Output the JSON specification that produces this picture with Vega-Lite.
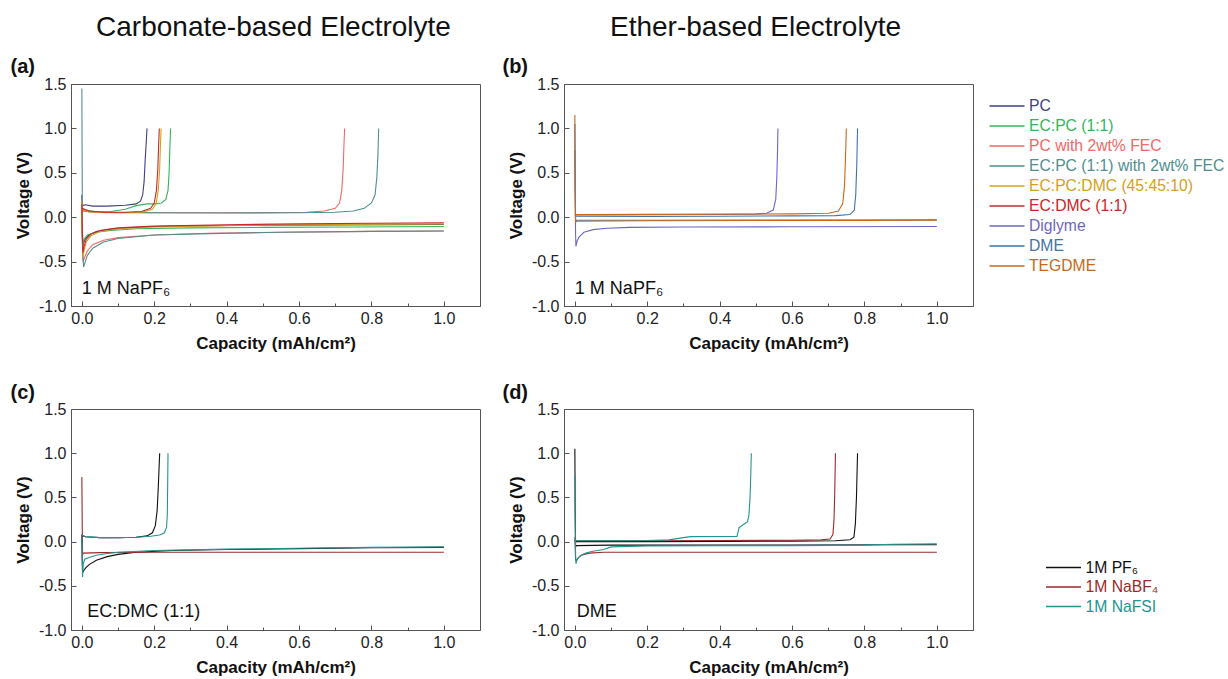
{
"$schema": "https://vega.github.io/schema/vega-lite/v6.json",
"background": "white",
"padding": {"left": 10, "top": 13, "right": 5, "bottom": 5},
"config": {
 "font": "Liberation Sans",
 "view": {"stroke": "#555", "strokeWidth": 1},
 "axis": {"grid": false, "domainColor": "#555", "tickColor": "#555", "labelFont": "Liberation Sans", "labelFontSize": 16, "labelColor": "#222", "titleFont": "Liberation Sans", "titleFontSize": 17, "titleFontWeight": "bold", "titleColor": "#111"},
 "legend": {"labelFont": "Liberation Sans", "labelFontSize": 15.7, "symbolType": "M-2.1875,0H2.1875", "symbolSize": 256, "symbolStrokeWidth": 1.5, "labelOffset": 13, "labelLimit": 400}
},
"datasets": {
"da": [
{"s":"PC","g":"p","x":0,"y":0.25},{"s":"PC","g":"p","x":0.0005,"y":0.05},{"s":"PC","g":"p","x":0.001,"y":-0.2},{"s":"PC","g":"p","x":0.002,"y":-0.36},{"s":"PC","g":"p","x":0.004,"y":-0.3},{"s":"PC","g":"p","x":0.01,"y":-0.24},{"s":"PC","g":"p","x":0.02,"y":-0.2},{"s":"PC","g":"p","x":0.04,"y":-0.16},{"s":"PC","g":"p","x":0.07,"y":-0.14},{"s":"PC","g":"p","x":0.12,"y":-0.12},{"s":"PC","g":"p","x":0.2,"y":-0.105},{"s":"PC","g":"p","x":0.35,"y":-0.095},{"s":"PC","g":"p","x":0.5,"y":-0.09},{"s":"PC","g":"p","x":0.7,"y":-0.087},{"s":"PC","g":"p","x":0.85,"y":-0.085},{"s":"PC","g":"p","x":1.0,"y":-0.083},
{"s":"PC","g":"s","x":0,"y":0.13},{"s":"PC","g":"s","x":0.01,"y":0.14},{"s":"PC","g":"s","x":0.03,"y":0.125},{"s":"PC","g":"s","x":0.07,"y":0.125},{"s":"PC","g":"s","x":0.12,"y":0.135},{"s":"PC","g":"s","x":0.15,"y":0.15},{"s":"PC","g":"s","x":0.162,"y":0.18},{"s":"PC","g":"s","x":0.168,"y":0.25},{"s":"PC","g":"s","x":0.172,"y":0.4},{"s":"PC","g":"s","x":0.175,"y":0.65},{"s":"PC","g":"s","x":0.178,"y":0.85},{"s":"PC","g":"s","x":0.18,"y":1.0},
{"s":"EC:PC (1:1)","g":"p","x":0,"y":0.12},{"s":"EC:PC (1:1)","g":"p","x":0.001,"y":-0.15},{"s":"EC:PC (1:1)","g":"p","x":0.003,"y":-0.3},{"s":"EC:PC (1:1)","g":"p","x":0.006,"y":-0.25},{"s":"EC:PC (1:1)","g":"p","x":0.015,"y":-0.2},{"s":"EC:PC (1:1)","g":"p","x":0.04,"y":-0.17},{"s":"EC:PC (1:1)","g":"p","x":0.08,"y":-0.15},{"s":"EC:PC (1:1)","g":"p","x":0.15,"y":-0.13},{"s":"EC:PC (1:1)","g":"p","x":0.3,"y":-0.12},{"s":"EC:PC (1:1)","g":"p","x":0.5,"y":-0.115},{"s":"EC:PC (1:1)","g":"p","x":0.75,"y":-0.11},{"s":"EC:PC (1:1)","g":"p","x":1.0,"y":-0.105},
{"s":"EC:PC (1:1)","g":"s","x":0,"y":0.1},{"s":"EC:PC (1:1)","g":"s","x":0.01,"y":0.08},{"s":"EC:PC (1:1)","g":"s","x":0.04,"y":0.06},{"s":"EC:PC (1:1)","g":"s","x":0.08,"y":0.065},{"s":"EC:PC (1:1)","g":"s","x":0.12,"y":0.09},{"s":"EC:PC (1:1)","g":"s","x":0.15,"y":0.13},{"s":"EC:PC (1:1)","g":"s","x":0.18,"y":0.15},{"s":"EC:PC (1:1)","g":"s","x":0.2,"y":0.15},{"s":"EC:PC (1:1)","g":"s","x":0.22,"y":0.16},{"s":"EC:PC (1:1)","g":"s","x":0.232,"y":0.2},{"s":"EC:PC (1:1)","g":"s","x":0.238,"y":0.3},{"s":"EC:PC (1:1)","g":"s","x":0.241,"y":0.5},{"s":"EC:PC (1:1)","g":"s","x":0.243,"y":0.75},{"s":"EC:PC (1:1)","g":"s","x":0.245,"y":1.0},
{"s":"PC with 2wt% FEC","g":"p","x":0,"y":0.1},{"s":"PC with 2wt% FEC","g":"p","x":0.001,"y":-0.2},{"s":"PC with 2wt% FEC","g":"p","x":0.003,"y":-0.5},{"s":"PC with 2wt% FEC","g":"p","x":0.006,"y":-0.47},{"s":"PC with 2wt% FEC","g":"p","x":0.015,"y":-0.38},{"s":"PC with 2wt% FEC","g":"p","x":0.03,"y":-0.31},{"s":"PC with 2wt% FEC","g":"p","x":0.06,"y":-0.26},{"s":"PC with 2wt% FEC","g":"p","x":0.1,"y":-0.23},{"s":"PC with 2wt% FEC","g":"p","x":0.2,"y":-0.2},{"s":"PC with 2wt% FEC","g":"p","x":0.35,"y":-0.18},{"s":"PC with 2wt% FEC","g":"p","x":0.55,"y":-0.17},{"s":"PC with 2wt% FEC","g":"p","x":0.8,"y":-0.16},{"s":"PC with 2wt% FEC","g":"p","x":1.0,"y":-0.155},
{"s":"PC with 2wt% FEC","g":"s","x":0,"y":0.08},{"s":"PC with 2wt% FEC","g":"s","x":0.02,"y":0.06},{"s":"PC with 2wt% FEC","g":"s","x":0.1,"y":0.05},{"s":"PC with 2wt% FEC","g":"s","x":0.3,"y":0.05},{"s":"PC with 2wt% FEC","g":"s","x":0.5,"y":0.05},{"s":"PC with 2wt% FEC","g":"s","x":0.62,"y":0.055},{"s":"PC with 2wt% FEC","g":"s","x":0.67,"y":0.07},{"s":"PC with 2wt% FEC","g":"s","x":0.7,"y":0.1},{"s":"PC with 2wt% FEC","g":"s","x":0.712,"y":0.16},{"s":"PC with 2wt% FEC","g":"s","x":0.718,"y":0.3},{"s":"PC with 2wt% FEC","g":"s","x":0.722,"y":0.55},{"s":"PC with 2wt% FEC","g":"s","x":0.724,"y":0.8},{"s":"PC with 2wt% FEC","g":"s","x":0.726,"y":1.0},
{"s":"EC:PC (1:1) with 2wt% FEC","g":"p","x":0,"y":1.45},{"s":"EC:PC (1:1) with 2wt% FEC","g":"p","x":0.0008,"y":0.6},{"s":"EC:PC (1:1) with 2wt% FEC","g":"p","x":0.0015,"y":-0.1},{"s":"EC:PC (1:1) with 2wt% FEC","g":"p","x":0.003,"y":-0.45},{"s":"EC:PC (1:1) with 2wt% FEC","g":"p","x":0.005,"y":-0.56},{"s":"EC:PC (1:1) with 2wt% FEC","g":"p","x":0.008,"y":-0.52},{"s":"EC:PC (1:1) with 2wt% FEC","g":"p","x":0.015,"y":-0.43},{"s":"EC:PC (1:1) with 2wt% FEC","g":"p","x":0.03,"y":-0.35},{"s":"EC:PC (1:1) with 2wt% FEC","g":"p","x":0.06,"y":-0.28},{"s":"EC:PC (1:1) with 2wt% FEC","g":"p","x":0.1,"y":-0.24},{"s":"EC:PC (1:1) with 2wt% FEC","g":"p","x":0.2,"y":-0.2},{"s":"EC:PC (1:1) with 2wt% FEC","g":"p","x":0.35,"y":-0.185},{"s":"EC:PC (1:1) with 2wt% FEC","g":"p","x":0.55,"y":-0.17},{"s":"EC:PC (1:1) with 2wt% FEC","g":"p","x":0.8,"y":-0.16},{"s":"EC:PC (1:1) with 2wt% FEC","g":"p","x":1.0,"y":-0.155},
{"s":"EC:PC (1:1) with 2wt% FEC","g":"s","x":0,"y":0.07},{"s":"EC:PC (1:1) with 2wt% FEC","g":"s","x":0.05,"y":0.055},{"s":"EC:PC (1:1) with 2wt% FEC","g":"s","x":0.2,"y":0.05},{"s":"EC:PC (1:1) with 2wt% FEC","g":"s","x":0.4,"y":0.048},{"s":"EC:PC (1:1) with 2wt% FEC","g":"s","x":0.6,"y":0.05},{"s":"EC:PC (1:1) with 2wt% FEC","g":"s","x":0.7,"y":0.055},{"s":"EC:PC (1:1) with 2wt% FEC","g":"s","x":0.75,"y":0.07},{"s":"EC:PC (1:1) with 2wt% FEC","g":"s","x":0.78,"y":0.1},{"s":"EC:PC (1:1) with 2wt% FEC","g":"s","x":0.8,"y":0.16},{"s":"EC:PC (1:1) with 2wt% FEC","g":"s","x":0.81,"y":0.25},{"s":"EC:PC (1:1) with 2wt% FEC","g":"s","x":0.815,"y":0.45},{"s":"EC:PC (1:1) with 2wt% FEC","g":"s","x":0.818,"y":0.7},{"s":"EC:PC (1:1) with 2wt% FEC","g":"s","x":0.82,"y":1.0},
{"s":"EC:PC:DMC (45:45:10)","g":"p","x":0,"y":0.18},{"s":"EC:PC:DMC (45:45:10)","g":"p","x":0.001,"y":-0.1},{"s":"EC:PC:DMC (45:45:10)","g":"p","x":0.003,"y":-0.45},{"s":"EC:PC:DMC (45:45:10)","g":"p","x":0.006,"y":-0.38},{"s":"EC:PC:DMC (45:45:10)","g":"p","x":0.012,"y":-0.28},{"s":"EC:PC:DMC (45:45:10)","g":"p","x":0.025,"y":-0.21},{"s":"EC:PC:DMC (45:45:10)","g":"p","x":0.05,"y":-0.16},{"s":"EC:PC:DMC (45:45:10)","g":"p","x":0.1,"y":-0.13},{"s":"EC:PC:DMC (45:45:10)","g":"p","x":0.2,"y":-0.11},{"s":"EC:PC:DMC (45:45:10)","g":"p","x":0.4,"y":-0.095},{"s":"EC:PC:DMC (45:45:10)","g":"p","x":0.6,"y":-0.085},{"s":"EC:PC:DMC (45:45:10)","g":"p","x":0.8,"y":-0.078},{"s":"EC:PC:DMC (45:45:10)","g":"p","x":1.0,"y":-0.075},
{"s":"EC:PC:DMC (45:45:10)","g":"s","x":0,"y":0.09},{"s":"EC:PC:DMC (45:45:10)","g":"s","x":0.02,"y":0.06},{"s":"EC:PC:DMC (45:45:10)","g":"s","x":0.06,"y":0.05},{"s":"EC:PC:DMC (45:45:10)","g":"s","x":0.12,"y":0.05},{"s":"EC:PC:DMC (45:45:10)","g":"s","x":0.17,"y":0.06},{"s":"EC:PC:DMC (45:45:10)","g":"s","x":0.195,"y":0.09},{"s":"EC:PC:DMC (45:45:10)","g":"s","x":0.205,"y":0.15},{"s":"EC:PC:DMC (45:45:10)","g":"s","x":0.211,"y":0.3},{"s":"EC:PC:DMC (45:45:10)","g":"s","x":0.215,"y":0.55},{"s":"EC:PC:DMC (45:45:10)","g":"s","x":0.217,"y":0.8},{"s":"EC:PC:DMC (45:45:10)","g":"s","x":0.219,"y":1.0},
{"s":"EC:DMC (1:1)","g":"p","x":0,"y":0.15},{"s":"EC:DMC (1:1)","g":"p","x":0.001,"y":-0.1},{"s":"EC:DMC (1:1)","g":"p","x":0.003,"y":-0.4},{"s":"EC:DMC (1:1)","g":"p","x":0.006,"y":-0.33},{"s":"EC:DMC (1:1)","g":"p","x":0.012,"y":-0.25},{"s":"EC:DMC (1:1)","g":"p","x":0.025,"y":-0.19},{"s":"EC:DMC (1:1)","g":"p","x":0.05,"y":-0.15},{"s":"EC:DMC (1:1)","g":"p","x":0.1,"y":-0.12},{"s":"EC:DMC (1:1)","g":"p","x":0.2,"y":-0.1},{"s":"EC:DMC (1:1)","g":"p","x":0.4,"y":-0.085},{"s":"EC:DMC (1:1)","g":"p","x":0.6,"y":-0.075},{"s":"EC:DMC (1:1)","g":"p","x":0.8,"y":-0.068},{"s":"EC:DMC (1:1)","g":"p","x":1.0,"y":-0.063},
{"s":"EC:DMC (1:1)","g":"s","x":0,"y":0.1},{"s":"EC:DMC (1:1)","g":"s","x":0.02,"y":0.07},{"s":"EC:DMC (1:1)","g":"s","x":0.06,"y":0.055},{"s":"EC:DMC (1:1)","g":"s","x":0.12,"y":0.055},{"s":"EC:DMC (1:1)","g":"s","x":0.165,"y":0.065},{"s":"EC:DMC (1:1)","g":"s","x":0.19,"y":0.1},{"s":"EC:DMC (1:1)","g":"s","x":0.2,"y":0.16},{"s":"EC:DMC (1:1)","g":"s","x":0.206,"y":0.3},{"s":"EC:DMC (1:1)","g":"s","x":0.21,"y":0.55},{"s":"EC:DMC (1:1)","g":"s","x":0.212,"y":0.8},{"s":"EC:DMC (1:1)","g":"s","x":0.214,"y":1.0}
],
"db": [
{"s":"Diglyme","g":"p","x":0,"y":0.75},{"s":"Diglyme","g":"p","x":0.001,"y":0.2},{"s":"Diglyme","g":"p","x":0.002,"y":-0.2},{"s":"Diglyme","g":"p","x":0.003,"y":-0.33},{"s":"Diglyme","g":"p","x":0.006,"y":-0.27},{"s":"Diglyme","g":"p","x":0.012,"y":-0.22},{"s":"Diglyme","g":"p","x":0.025,"y":-0.17},{"s":"Diglyme","g":"p","x":0.05,"y":-0.14},{"s":"Diglyme","g":"p","x":0.09,"y":-0.125},{"s":"Diglyme","g":"p","x":0.15,"y":-0.115},{"s":"Diglyme","g":"p","x":0.3,"y":-0.11},{"s":"Diglyme","g":"p","x":0.6,"y":-0.108},{"s":"Diglyme","g":"p","x":1.0,"y":-0.105},
{"s":"Diglyme","g":"s","x":0,"y":0.025},{"s":"Diglyme","g":"s","x":0.1,"y":0.025},{"s":"Diglyme","g":"s","x":0.25,"y":0.028},{"s":"Diglyme","g":"s","x":0.4,"y":0.03},{"s":"Diglyme","g":"s","x":0.5,"y":0.035},{"s":"Diglyme","g":"s","x":0.53,"y":0.045},{"s":"Diglyme","g":"s","x":0.548,"y":0.08},{"s":"Diglyme","g":"s","x":0.555,"y":0.2},{"s":"Diglyme","g":"s","x":0.558,"y":0.45},{"s":"Diglyme","g":"s","x":0.56,"y":0.75},{"s":"Diglyme","g":"s","x":0.561,"y":1.0},
{"s":"DME","g":"p","x":0,"y":1.05},{"s":"DME","g":"p","x":0.001,"y":0.3},{"s":"DME","g":"p","x":0.002,"y":-0.05},{"s":"DME","g":"p","x":0.004,"y":-0.035},{"s":"DME","g":"p","x":0.2,"y":-0.035},{"s":"DME","g":"p","x":0.5,"y":-0.033},{"s":"DME","g":"p","x":0.8,"y":-0.032},{"s":"DME","g":"p","x":1.0,"y":-0.03},
{"s":"DME","g":"s","x":0,"y":0.01},{"s":"DME","g":"s","x":0.2,"y":0.008},{"s":"DME","g":"s","x":0.4,"y":0.01},{"s":"DME","g":"s","x":0.6,"y":0.015},{"s":"DME","g":"s","x":0.72,"y":0.018},{"s":"DME","g":"s","x":0.76,"y":0.03},{"s":"DME","g":"s","x":0.772,"y":0.08},{"s":"DME","g":"s","x":0.776,"y":0.25},{"s":"DME","g":"s","x":0.779,"y":0.6},{"s":"DME","g":"s","x":0.781,"y":1.0},
{"s":"TEGDME","g":"p","x":0,"y":1.15},{"s":"TEGDME","g":"p","x":0.001,"y":0.4},{"s":"TEGDME","g":"p","x":0.002,"y":-0.06},{"s":"TEGDME","g":"p","x":0.005,"y":-0.045},{"s":"TEGDME","g":"p","x":0.2,"y":-0.04},{"s":"TEGDME","g":"p","x":0.5,"y":-0.038},{"s":"TEGDME","g":"p","x":0.8,"y":-0.036},{"s":"TEGDME","g":"p","x":1.0,"y":-0.035},
{"s":"TEGDME","g":"s","x":0,"y":0.03},{"s":"TEGDME","g":"s","x":0.2,"y":0.032},{"s":"TEGDME","g":"s","x":0.4,"y":0.035},{"s":"TEGDME","g":"s","x":0.6,"y":0.038},{"s":"TEGDME","g":"s","x":0.7,"y":0.045},{"s":"TEGDME","g":"s","x":0.728,"y":0.07},{"s":"TEGDME","g":"s","x":0.74,"y":0.15},{"s":"TEGDME","g":"s","x":0.745,"y":0.35},{"s":"TEGDME","g":"s","x":0.748,"y":0.7},{"s":"TEGDME","g":"s","x":0.75,"y":1.0}
],
"dc": [
{"s":"1M PF₆","g":"p","x":0,"y":0.08},{"s":"1M PF₆","g":"p","x":0.001,"y":-0.2},{"s":"1M PF₆","g":"p","x":0.002,"y":-0.35},{"s":"1M PF₆","g":"p","x":0.005,"y":-0.33},{"s":"1M PF₆","g":"p","x":0.01,"y":-0.3},{"s":"1M PF₆","g":"p","x":0.02,"y":-0.26},{"s":"1M PF₆","g":"p","x":0.04,"y":-0.21},{"s":"1M PF₆","g":"p","x":0.07,"y":-0.17},{"s":"1M PF₆","g":"p","x":0.1,"y":-0.145},{"s":"1M PF₆","g":"p","x":0.15,"y":-0.12},{"s":"1M PF₆","g":"p","x":0.25,"y":-0.1},{"s":"1M PF₆","g":"p","x":0.4,"y":-0.09},{"s":"1M PF₆","g":"p","x":0.6,"y":-0.08},{"s":"1M PF₆","g":"p","x":0.8,"y":-0.07},{"s":"1M PF₆","g":"p","x":1.0,"y":-0.065},
{"s":"1M PF₆","g":"s","x":0,"y":0.07},{"s":"1M PF₆","g":"s","x":0.01,"y":0.055},{"s":"1M PF₆","g":"s","x":0.05,"y":0.045},{"s":"1M PF₆","g":"s","x":0.1,"y":0.045},{"s":"1M PF₆","g":"s","x":0.15,"y":0.05},{"s":"1M PF₆","g":"s","x":0.18,"y":0.065},{"s":"1M PF₆","g":"s","x":0.195,"y":0.1},{"s":"1M PF₆","g":"s","x":0.203,"y":0.18},{"s":"1M PF₆","g":"s","x":0.208,"y":0.35},{"s":"1M PF₆","g":"s","x":0.211,"y":0.6},{"s":"1M PF₆","g":"s","x":0.213,"y":0.8},{"s":"1M PF₆","g":"s","x":0.215,"y":1.0},
{"s":"1M NaBF₄","g":"p","x":0,"y":0.73},{"s":"1M NaBF₄","g":"p","x":0.001,"y":0.2},{"s":"1M NaBF₄","g":"p","x":0.002,"y":-0.15},{"s":"1M NaBF₄","g":"p","x":0.004,"y":-0.13},{"s":"1M NaBF₄","g":"p","x":0.05,"y":-0.125},{"s":"1M NaBF₄","g":"p","x":0.2,"y":-0.12},{"s":"1M NaBF₄","g":"p","x":0.5,"y":-0.12},{"s":"1M NaBF₄","g":"p","x":0.8,"y":-0.12},{"s":"1M NaBF₄","g":"p","x":1.0,"y":-0.12},
{"s":"1M NaFSI","g":"p","x":0,"y":0.05},{"s":"1M NaFSI","g":"p","x":0.001,"y":-0.2},{"s":"1M NaFSI","g":"p","x":0.002,"y":-0.4},{"s":"1M NaFSI","g":"p","x":0.004,"y":-0.25},{"s":"1M NaFSI","g":"p","x":0.008,"y":-0.2},{"s":"1M NaFSI","g":"p","x":0.02,"y":-0.18},{"s":"1M NaFSI","g":"p","x":0.04,"y":-0.155},{"s":"1M NaFSI","g":"p","x":0.07,"y":-0.135},{"s":"1M NaFSI","g":"p","x":0.1,"y":-0.12},{"s":"1M NaFSI","g":"p","x":0.2,"y":-0.1},{"s":"1M NaFSI","g":"p","x":0.4,"y":-0.085},{"s":"1M NaFSI","g":"p","x":0.6,"y":-0.075},{"s":"1M NaFSI","g":"p","x":0.8,"y":-0.065},{"s":"1M NaFSI","g":"p","x":1.0,"y":-0.06},
{"s":"1M NaFSI","g":"s","x":0,"y":0.075},{"s":"1M NaFSI","g":"s","x":0.01,"y":0.055},{"s":"1M NaFSI","g":"s","x":0.05,"y":0.045},{"s":"1M NaFSI","g":"s","x":0.1,"y":0.045},{"s":"1M NaFSI","g":"s","x":0.15,"y":0.05},{"s":"1M NaFSI","g":"s","x":0.19,"y":0.06},{"s":"1M NaFSI","g":"s","x":0.215,"y":0.075},{"s":"1M NaFSI","g":"s","x":0.228,"y":0.1},{"s":"1M NaFSI","g":"s","x":0.234,"y":0.16},{"s":"1M NaFSI","g":"s","x":0.236,"y":0.3},{"s":"1M NaFSI","g":"s","x":0.237,"y":0.6},{"s":"1M NaFSI","g":"s","x":0.238,"y":1.0}
],
"dd": [
{"s":"1M PF₆","g":"p","x":0,"y":1.05},{"s":"1M PF₆","g":"p","x":0.001,"y":0.3},{"s":"1M PF₆","g":"p","x":0.002,"y":-0.06},{"s":"1M PF₆","g":"p","x":0.004,"y":-0.045},{"s":"1M PF₆","g":"p","x":0.1,"y":-0.04},{"s":"1M PF₆","g":"p","x":0.3,"y":-0.04},{"s":"1M PF₆","g":"p","x":0.6,"y":-0.038},{"s":"1M PF₆","g":"p","x":0.9,"y":-0.035},{"s":"1M PF₆","g":"p","x":1.0,"y":-0.035},
{"s":"1M PF₆","g":"s","x":0,"y":0.0},{"s":"1M PF₆","g":"s","x":0.2,"y":0.0},{"s":"1M PF₆","g":"s","x":0.4,"y":0.002},{"s":"1M PF₆","g":"s","x":0.6,"y":0.005},{"s":"1M PF₆","g":"s","x":0.72,"y":0.01},{"s":"1M PF₆","g":"s","x":0.76,"y":0.02},{"s":"1M PF₆","g":"s","x":0.771,"y":0.05},{"s":"1M PF₆","g":"s","x":0.775,"y":0.2},{"s":"1M PF₆","g":"s","x":0.778,"y":0.5},{"s":"1M PF₆","g":"s","x":0.781,"y":1.0},
{"s":"1M NaBF₄","g":"p","x":0,"y":0.05},{"s":"1M NaBF₄","g":"p","x":0.002,"y":-0.2},{"s":"1M NaBF₄","g":"p","x":0.004,"y":-0.22},{"s":"1M NaBF₄","g":"p","x":0.01,"y":-0.18},{"s":"1M NaBF₄","g":"p","x":0.02,"y":-0.15},{"s":"1M NaBF₄","g":"p","x":0.04,"y":-0.13},{"s":"1M NaBF₄","g":"p","x":0.08,"y":-0.12},{"s":"1M NaBF₄","g":"p","x":0.3,"y":-0.12},{"s":"1M NaBF₄","g":"p","x":0.6,"y":-0.12},{"s":"1M NaBF₄","g":"p","x":1.0,"y":-0.12},
{"s":"1M NaBF₄","g":"s","x":0,"y":0.01},{"s":"1M NaBF₄","g":"s","x":0.2,"y":0.01},{"s":"1M NaBF₄","g":"s","x":0.4,"y":0.012},{"s":"1M NaBF₄","g":"s","x":0.6,"y":0.015},{"s":"1M NaBF₄","g":"s","x":0.68,"y":0.02},{"s":"1M NaBF₄","g":"s","x":0.705,"y":0.03},{"s":"1M NaBF₄","g":"s","x":0.713,"y":0.08},{"s":"1M NaBF₄","g":"s","x":0.716,"y":0.25},{"s":"1M NaBF₄","g":"s","x":0.718,"y":0.55},{"s":"1M NaBF₄","g":"s","x":0.72,"y":1.0},
{"s":"1M NaFSI","g":"p","x":0,"y":0.75},{"s":"1M NaFSI","g":"p","x":0.001,"y":0.2},{"s":"1M NaFSI","g":"p","x":0.002,"y":-0.15},{"s":"1M NaFSI","g":"p","x":0.003,"y":-0.25},{"s":"1M NaFSI","g":"p","x":0.006,"y":-0.2},{"s":"1M NaFSI","g":"p","x":0.015,"y":-0.16},{"s":"1M NaFSI","g":"p","x":0.03,"y":-0.13},{"s":"1M NaFSI","g":"p","x":0.05,"y":-0.11},{"s":"1M NaFSI","g":"p","x":0.08,"y":-0.09},{"s":"1M NaFSI","g":"p","x":0.1,"y":-0.06},{"s":"1M NaFSI","g":"p","x":0.2,"y":-0.05},{"s":"1M NaFSI","g":"p","x":0.4,"y":-0.045},{"s":"1M NaFSI","g":"p","x":0.6,"y":-0.045},{"s":"1M NaFSI","g":"p","x":0.8,"y":-0.04},{"s":"1M NaFSI","g":"p","x":0.88,"y":-0.03},{"s":"1M NaFSI","g":"p","x":1.0,"y":-0.025},
{"s":"1M NaFSI","g":"s","x":0,"y":0.01},{"s":"1M NaFSI","g":"s","x":0.1,"y":0.01},{"s":"1M NaFSI","g":"s","x":0.2,"y":0.012},{"s":"1M NaFSI","g":"s","x":0.26,"y":0.02},{"s":"1M NaFSI","g":"s","x":0.3,"y":0.045},{"s":"1M NaFSI","g":"s","x":0.32,"y":0.056},{"s":"1M NaFSI","g":"s","x":0.448,"y":0.058},{"s":"1M NaFSI","g":"s","x":0.454,"y":0.16},{"s":"1M NaFSI","g":"s","x":0.458,"y":0.17},{"s":"1M NaFSI","g":"s","x":0.477,"y":0.225},{"s":"1M NaFSI","g":"s","x":0.481,"y":0.3},{"s":"1M NaFSI","g":"s","x":0.484,"y":0.5},{"s":"1M NaFSI","g":"s","x":0.486,"y":0.75},{"s":"1M NaFSI","g":"s","x":0.4875,"y":1.0}
]
},
"spacing": 30,
"resolve": {"scale": {"color": "independent"}, "legend": {"color": "independent"}},
"vconcat": [
{
"spacing": 20,
"resolve": {"scale": {"color": "shared"}, "legend": {"color": "shared"}},
"hconcat": [
{
"width": 409, "height": 222,
"title": {"text": "Carbonate-based Electrolyte", "frame": "group", "anchor": "middle", "dx": -2, "fontSize": 28, "fontWeight": "normal", "font": "Liberation Sans", "color": "#111", "offset": 15},
"layer": [
{"data": {"name": "da"}, "mark": {"type": "line", "strokeWidth": 1.1, "clip": true},
"encoding": {
"x": {"field": "x", "type": "quantitative", "title": "Capacity (mAh/cm²)", "scale": {"domain": [-0.03, 1.1], "nice": false, "zero": false}, "axis": {"values": [0,0.1,0.2,0.3,0.4,0.5,0.6,0.7,0.8,0.9,1], "labelExpr": "round(datum.value*10)%2==0 ? format(datum.value,'.1f') : ''", "tickSize": {"condition": {"test": "round(datum.value*10)%2==0", "value": -5}, "value": -3}, "labelPadding": 9, "titlePadding": 9}},
"y": {"field": "y", "type": "quantitative", "title": "Voltage (V)", "scale": {"domain": [-1, 1.5], "nice": false, "zero": false}, "axis": {"values": [-1,-0.75,-0.5,-0.25,0,0.25,0.5,0.75,1,1.25,1.5], "labelExpr": "abs(datum.value*2-round(datum.value*2))<0.01 ? (datum.value<0 ? '-' + format(-datum.value,'.1f') : format(datum.value,'.1f')) : ''", "tickSize": {"condition": {"test": "abs(datum.value*2-round(datum.value*2))<0.01", "value": -5}, "value": -3}, "labelPadding": 10, "titlePadding": 6}},
"color": {"field": "s", "type": "nominal", "scale": {"domain": ["PC","EC:PC (1:1)","PC with 2wt% FEC","EC:PC (1:1) with 2wt% FEC","EC:PC:DMC (45:45:10)","EC:DMC (1:1)","Diglyme","DME","TEGDME"], "range": ["#40407f","#35b55a","#f06868","#4f8f8c","#d4a218","#c9272d","#6b68c4","#3f74a6","#c9681a"]}, "legend": {"orient": "right", "offset": 10.5, "padding": 13, "rowPadding": 3, "title": null, "labelColor": {"expr": "['#40407f','#35b55a','#f06868','#4f8f8c','#d4a218','#c9272d','#6b68c4','#3f74a6','#c9681a'][indexof(['PC','EC:PC (1:1)','PC with 2wt% FEC','EC:PC (1:1) with 2wt% FEC','EC:PC:DMC (45:45:10)','EC:DMC (1:1)','Diglyme','DME','TEGDME'], datum.value)]"}}},
"detail": {"field": "g"}
}},
{"data": {"values": [{}]}, "mark": {"type": "text", "align": "left", "baseline": "alphabetic", "fontSize": 18, "font": "Liberation Sans", "color": "#111"}, "encoding": {"x": {"datum": 0.0}, "y": {"datum": -0.865}, "text": {"value": "1 M NaPF₆"}}},
{"data": {"values": [{}]}, "mark": {"type": "text", "align": "left", "baseline": "middle", "fontSize": 20, "fontWeight": "bold", "font": "Liberation Sans", "color": "#111"}, "encoding": {"x": {"datum": -0.197}, "y": {"datum": 1.69}, "text": {"value": "(a)"}}}
]
},
{
"width": 409, "height": 222,
"title": {"text": "Ether-based Electrolyte", "frame": "group", "anchor": "middle", "dx": -13, "fontSize": 28, "fontWeight": "normal", "font": "Liberation Sans", "color": "#111", "offset": 15},
"layer": [
{"data": {"name": "db"}, "mark": {"type": "line", "strokeWidth": 1.1, "clip": true},
"encoding": {
"x": {"field": "x", "type": "quantitative", "title": "Capacity (mAh/cm²)", "scale": {"domain": [-0.03, 1.1], "nice": false, "zero": false}, "axis": {"values": [0,0.1,0.2,0.3,0.4,0.5,0.6,0.7,0.8,0.9,1], "labelExpr": "round(datum.value*10)%2==0 ? format(datum.value,'.1f') : ''", "tickSize": {"condition": {"test": "round(datum.value*10)%2==0", "value": -5}, "value": -3}, "labelPadding": 9, "titlePadding": 9}},
"y": {"field": "y", "type": "quantitative", "title": "Voltage (V)", "scale": {"domain": [-1, 1.5], "nice": false, "zero": false}, "axis": {"values": [-1,-0.75,-0.5,-0.25,0,0.25,0.5,0.75,1,1.25,1.5], "labelExpr": "abs(datum.value*2-round(datum.value*2))<0.01 ? (datum.value<0 ? '-' + format(-datum.value,'.1f') : format(datum.value,'.1f')) : ''", "tickSize": {"condition": {"test": "abs(datum.value*2-round(datum.value*2))<0.01", "value": -5}, "value": -3}, "labelPadding": 10, "titlePadding": 6}},
"color": {"field": "s", "type": "nominal", "scale": {"domain": ["PC","EC:PC (1:1)","PC with 2wt% FEC","EC:PC (1:1) with 2wt% FEC","EC:PC:DMC (45:45:10)","EC:DMC (1:1)","Diglyme","DME","TEGDME"], "range": ["#40407f","#35b55a","#f06868","#4f8f8c","#d4a218","#c9272d","#6b68c4","#3f74a6","#c9681a"]}, "legend": {"orient": "right", "offset": 10.5, "padding": 13, "rowPadding": 3, "title": null, "labelColor": {"expr": "['#40407f','#35b55a','#f06868','#4f8f8c','#d4a218','#c9272d','#6b68c4','#3f74a6','#c9681a'][indexof(['PC','EC:PC (1:1)','PC with 2wt% FEC','EC:PC (1:1) with 2wt% FEC','EC:PC:DMC (45:45:10)','EC:DMC (1:1)','Diglyme','DME','TEGDME'], datum.value)]"}}},
"detail": {"field": "g"}
}},
{"data": {"values": [{}]}, "mark": {"type": "text", "align": "left", "baseline": "alphabetic", "fontSize": 18, "font": "Liberation Sans", "color": "#111"}, "encoding": {"x": {"datum": 0.0}, "y": {"datum": -0.865}, "text": {"value": "1 M NaPF₆"}}},
{"data": {"values": [{}]}, "mark": {"type": "text", "align": "left", "baseline": "middle", "fontSize": 20, "fontWeight": "bold", "font": "Liberation Sans", "color": "#111"}, "encoding": {"x": {"datum": -0.2}, "y": {"datum": 1.69}, "text": {"value": "(b)"}}}
]
}
]
},
{
"spacing": 20,
"resolve": {"scale": {"color": "shared"}, "legend": {"color": "shared"}},
"hconcat": [
{
"width": 409, "height": 221,
"layer": [
{"data": {"name": "dc"}, "mark": {"type": "line", "strokeWidth": 1.1, "clip": true},
"encoding": {
"x": {"field": "x", "type": "quantitative", "title": "Capacity (mAh/cm²)", "scale": {"domain": [-0.03, 1.1], "nice": false, "zero": false}, "axis": {"values": [0,0.1,0.2,0.3,0.4,0.5,0.6,0.7,0.8,0.9,1], "labelExpr": "round(datum.value*10)%2==0 ? format(datum.value,'.1f') : ''", "tickSize": {"condition": {"test": "round(datum.value*10)%2==0", "value": -5}, "value": -3}, "labelPadding": 9, "titlePadding": 9}},
"y": {"field": "y", "type": "quantitative", "title": "Voltage (V)", "scale": {"domain": [-1, 1.5], "nice": false, "zero": false}, "axis": {"values": [-1,-0.75,-0.5,-0.25,0,0.25,0.5,0.75,1,1.25,1.5], "labelExpr": "abs(datum.value*2-round(datum.value*2))<0.01 ? (datum.value<0 ? '-' + format(-datum.value,'.1f') : format(datum.value,'.1f')) : ''", "tickSize": {"condition": {"test": "abs(datum.value*2-round(datum.value*2))<0.01", "value": -5}, "value": -3}, "labelPadding": 10, "titlePadding": 6}},
"color": {"field": "s", "type": "nominal", "scale": {"domain": ["1M PF₆","1M NaBF₄","1M NaFSI"], "range": ["#111111","#9a2a2a","#23948f"]}, "legend": {"orient": "none", "legendX": 983.5, "legendY": 149.5, "padding": 0, "rowPadding": 2.5, "title": null, "labelColor": {"expr": "['#111111','#9a2a2a','#23948f'][indexof(['1M PF₆','1M NaBF₄','1M NaFSI'], datum.value)]"}}},
"detail": {"field": "g"}
}},
{"data": {"values": [{}]}, "mark": {"type": "text", "align": "left", "baseline": "alphabetic", "fontSize": 18, "font": "Liberation Sans", "color": "#111"}, "encoding": {"x": {"datum": 0.015}, "y": {"datum": -0.855}, "text": {"value": "EC:DMC (1:1)"}}},
{"data": {"values": [{}]}, "mark": {"type": "text", "align": "left", "baseline": "middle", "fontSize": 20, "fontWeight": "bold", "font": "Liberation Sans", "color": "#111"}, "encoding": {"x": {"datum": -0.197}, "y": {"datum": 1.68}, "text": {"value": "(c)"}}}
]
},
{
"width": 409, "height": 221,
"layer": [
{"data": {"name": "dd"}, "mark": {"type": "line", "strokeWidth": 1.1, "clip": true},
"encoding": {
"x": {"field": "x", "type": "quantitative", "title": "Capacity (mAh/cm²)", "scale": {"domain": [-0.03, 1.1], "nice": false, "zero": false}, "axis": {"values": [0,0.1,0.2,0.3,0.4,0.5,0.6,0.7,0.8,0.9,1], "labelExpr": "round(datum.value*10)%2==0 ? format(datum.value,'.1f') : ''", "tickSize": {"condition": {"test": "round(datum.value*10)%2==0", "value": -5}, "value": -3}, "labelPadding": 9, "titlePadding": 9}},
"y": {"field": "y", "type": "quantitative", "title": "Voltage (V)", "scale": {"domain": [-1, 1.5], "nice": false, "zero": false}, "axis": {"values": [-1,-0.75,-0.5,-0.25,0,0.25,0.5,0.75,1,1.25,1.5], "labelExpr": "abs(datum.value*2-round(datum.value*2))<0.01 ? (datum.value<0 ? '-' + format(-datum.value,'.1f') : format(datum.value,'.1f')) : ''", "tickSize": {"condition": {"test": "abs(datum.value*2-round(datum.value*2))<0.01", "value": -5}, "value": -3}, "labelPadding": 10, "titlePadding": 6}},
"color": {"field": "s", "type": "nominal", "scale": {"domain": ["1M PF₆","1M NaBF₄","1M NaFSI"], "range": ["#111111","#9a2a2a","#23948f"]}, "legend": {"orient": "none", "legendX": 983.5, "legendY": 149.5, "padding": 0, "rowPadding": 2.5, "title": null, "labelColor": {"expr": "['#111111','#9a2a2a','#23948f'][indexof(['1M PF₆','1M NaBF₄','1M NaFSI'], datum.value)]"}}},
"detail": {"field": "g"}
}},
{"data": {"values": [{}]}, "mark": {"type": "text", "align": "left", "baseline": "alphabetic", "fontSize": 18, "font": "Liberation Sans", "color": "#111"}, "encoding": {"x": {"datum": 0.005}, "y": {"datum": -0.855}, "text": {"value": "DME"}}},
{"data": {"values": [{}]}, "mark": {"type": "text", "align": "left", "baseline": "middle", "fontSize": 20, "fontWeight": "bold", "font": "Liberation Sans", "color": "#111"}, "encoding": {"x": {"datum": -0.2}, "y": {"datum": 1.68}, "text": {"value": "(d)"}}}
]
}
]
}
]
}
